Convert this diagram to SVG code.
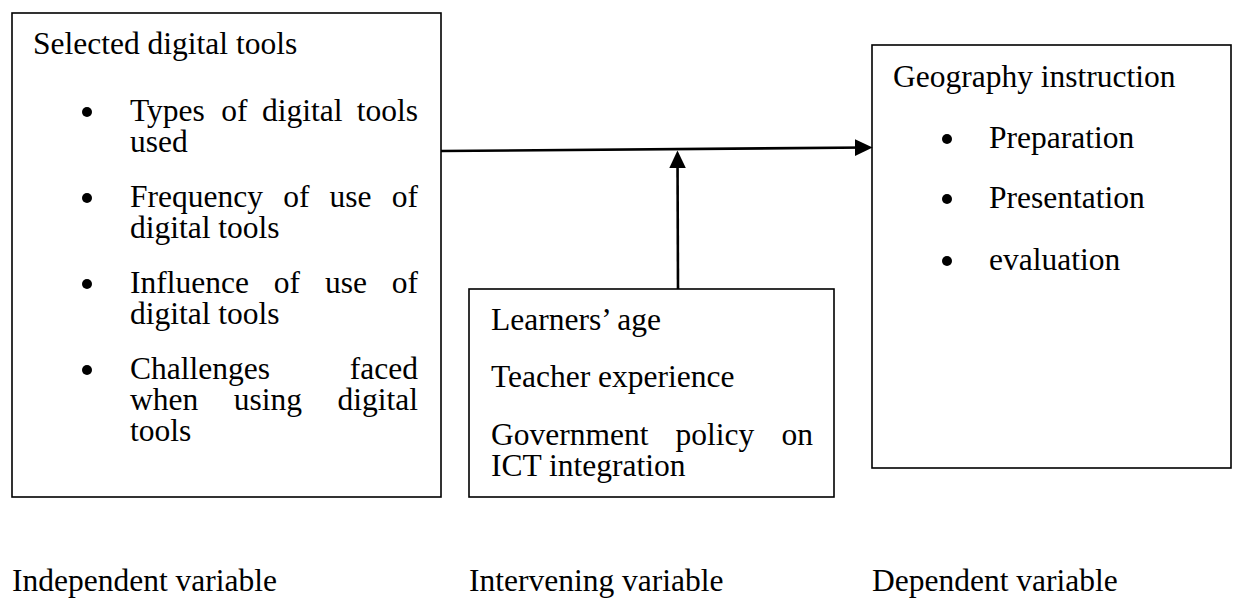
<svg xmlns="http://www.w3.org/2000/svg" width="1237" height="605" viewBox="0 0 1237 605">
  <style>
    .box { fill: #ffffff; stroke: #000000; stroke-width: 1.6; }
    .t { font-family: "Liberation Serif", "Times New Roman", serif; font-size: 31.5px; fill: #000000; }
    .e { text-anchor: end; }
    .dot { fill: #000000; }
    .link { stroke: #000000; stroke-width: 2.6; fill: none; }
  </style>
  <defs>
    <marker id="head" markerUnits="userSpaceOnUse" markerWidth="18" markerHeight="18" viewBox="0 0 16 16" refX="11" refY="8" orient="auto">
      <path d="M0,0.5 L16,8 L0,15.5 z" fill="#000000"/>
    </marker>
  </defs>
  <rect width="1237" height="605" fill="#ffffff"/>

  <!-- Independent variable box -->
  <g id="node-independent">
    <rect class="box" x="12" y="13" width="429" height="484"/>
    <text class="t" x="33" y="54">Selected digital tools</text>
    <circle class="dot" cx="87" cy="112" r="5"/>
    <text class="t" x="130" y="121">Types</text>
    <text class="t" x="221.3" y="121">of</text>
    <text class="t" x="261.9" y="121">digital</text>
    <text class="t e" x="418" y="121">tools</text>
    <text class="t" x="130" y="152">used</text>
    <circle class="dot" cx="87" cy="198" r="5"/>
    <text class="t" x="130" y="207">Frequency</text>
    <text class="t" x="283.2" y="207">of</text>
    <text class="t" x="329.6" y="207">use</text>
    <text class="t e" x="418" y="207">of</text>
    <text class="t" x="130" y="238">digital tools</text>
    <circle class="dot" cx="87" cy="284" r="5"/>
    <text class="t" x="130" y="293">Influence</text>
    <text class="t" x="273.8" y="293">of</text>
    <text class="t" x="324.9" y="293">use</text>
    <text class="t e" x="418" y="293">of</text>
    <text class="t" x="130" y="324">digital tools</text>
    <circle class="dot" cx="87" cy="370" r="5"/>
    <text class="t" x="130" y="379">Challenges</text>
    <text class="t e" x="418" y="379">faced</text>
    <text class="t" x="130" y="410">when</text>
    <text class="t" x="233.7" y="410">using</text>
    <text class="t e" x="418" y="410">digital</text>
    <text class="t" x="130" y="441">tools</text>
  </g>

  <!-- Intervening variable box -->
  <g id="node-intervening">
    <rect class="box" x="469" y="289" width="365" height="208"/>
    <text class="t" x="491" y="330">Learners’ age</text>
    <text class="t" x="491" y="387">Teacher experience</text>
    <text class="t" x="491" y="445">Government</text>
    <text class="t" x="675.6" y="445">policy</text>
    <text class="t e" x="813" y="445">on</text>
    <text class="t" x="491" y="476">ICT integration</text>
  </g>

  <!-- Dependent variable box -->
  <g id="node-dependent">
    <rect class="box" x="872" y="45" width="359" height="423"/>
    <text class="t" x="893" y="87">Geography instruction</text>
    <circle class="dot" cx="947" cy="139" r="5"/>
    <text class="t" x="989" y="148">Preparation</text>
    <circle class="dot" cx="947" cy="199" r="5"/>
    <text class="t" x="989" y="208">Presentation</text>
    <circle class="dot" cx="947" cy="261" r="5"/>
    <text class="t" x="989" y="270">evaluation</text>
  </g>

  <!-- Connectors -->
  <g id="connectors">
    <line class="link" x1="441" y1="151" x2="867" y2="147.5" marker-end="url(#head)"/>
    <line class="link" x1="678" y1="289" x2="677.5" y2="156" marker-end="url(#head)"/>
  </g>

  <!-- Variable labels -->
  <g id="labels">
    <text class="t" x="12" y="591">Independent variable</text>
    <text class="t" x="469" y="591">Intervening variable</text>
    <text class="t" x="872" y="591">Dependent variable</text>
  </g>
</svg>
